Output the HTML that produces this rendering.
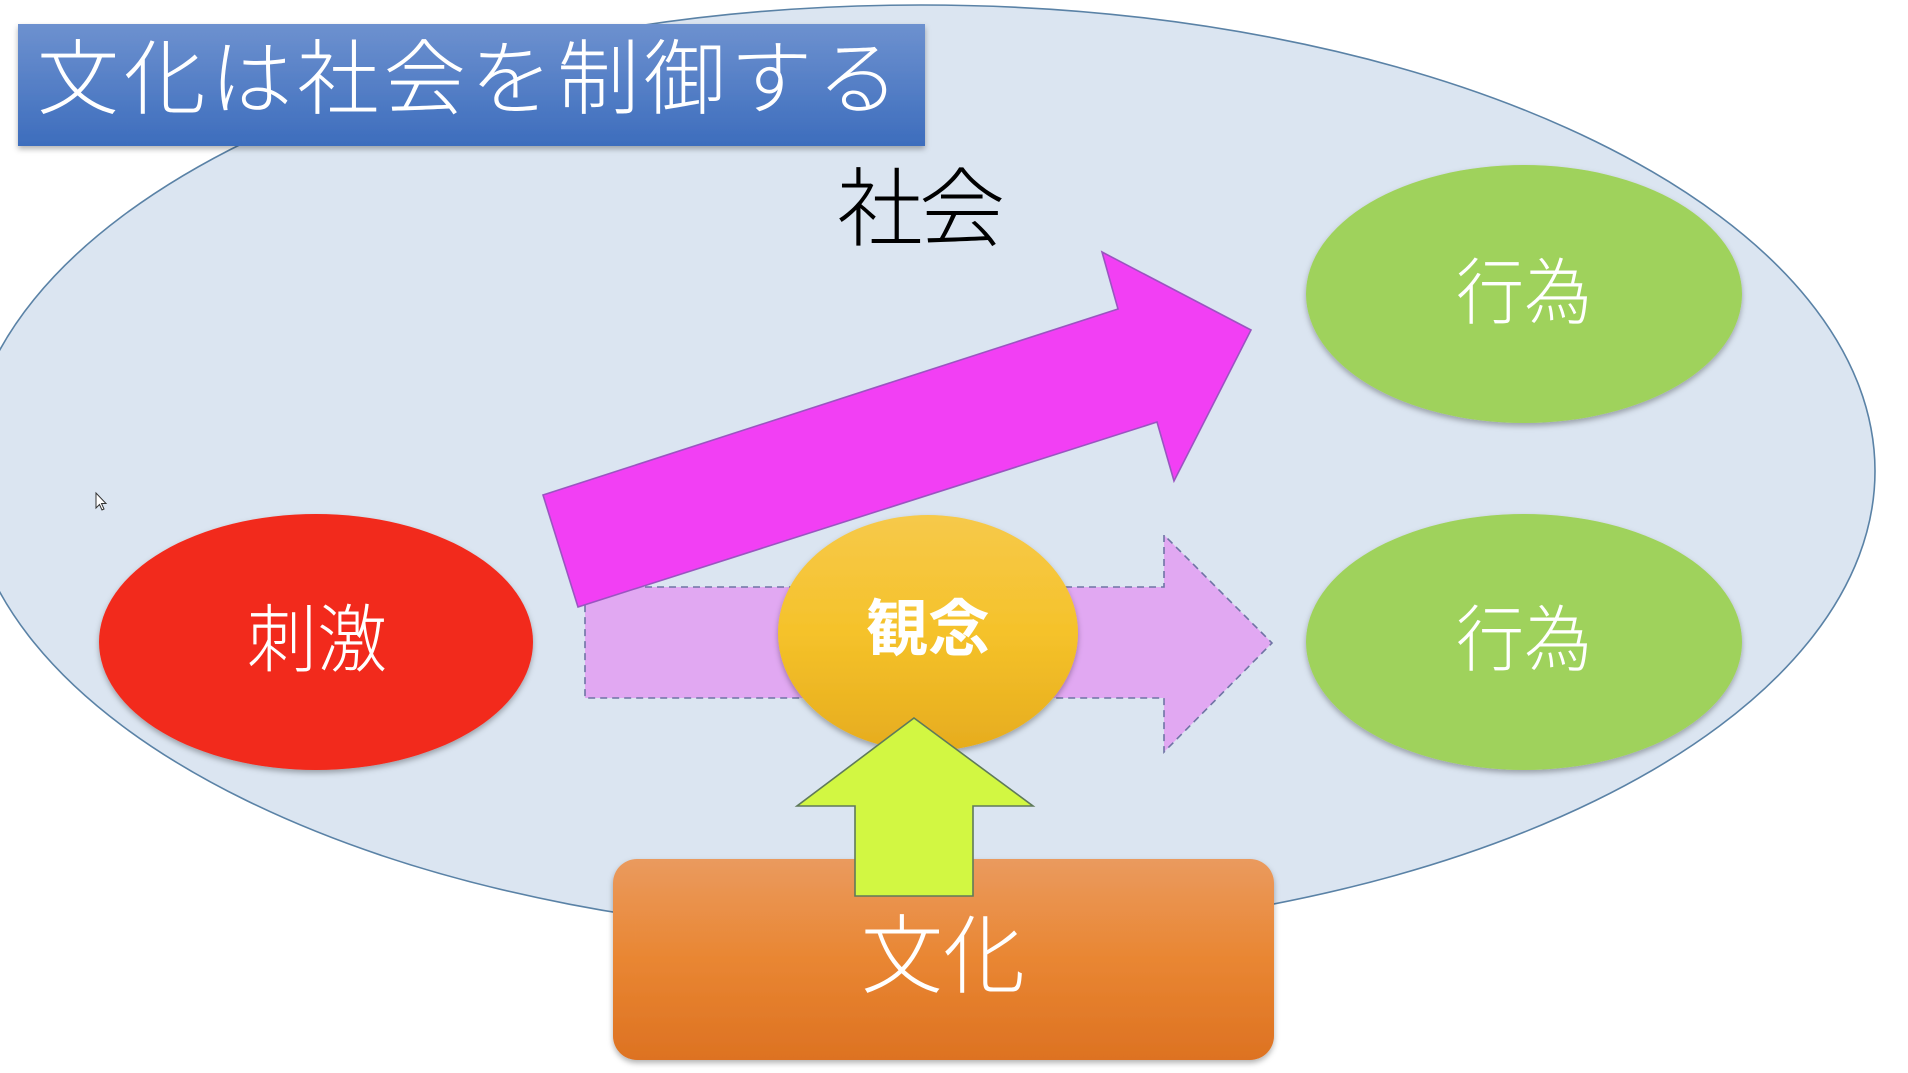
<!DOCTYPE html>
<html>
<head>
<meta charset="utf-8">
<style>
  html,body{margin:0;padding:0;background:#fff;}
  body{width:1908px;height:1073px;overflow:hidden;}
  svg{display:block;}
  text{font-family:"Liberation Sans","Noto Sans CJK JP","Noto Sans CJK SC",sans-serif;}
</style>
</head>
<body>
<svg width="1908" height="1073" viewBox="0 0 1908 1073" xmlns="http://www.w3.org/2000/svg">
  <defs>
    <linearGradient id="gTitle" x1="0" y1="0" x2="0" y2="1">
      <stop offset="0" stop-color="#6d91cf"/>
      <stop offset="1" stop-color="#3d6dbd"/>
    </linearGradient>
    <linearGradient id="gYellow" x1="0" y1="0" x2="0" y2="1">
      <stop offset="0" stop-color="#f6c94a"/>
      <stop offset="0.5" stop-color="#f5c22a"/>
      <stop offset="1" stop-color="#e6ac1e"/>
    </linearGradient>
    <linearGradient id="gOrange" x1="0" y1="0" x2="0" y2="1">
      <stop offset="0" stop-color="#ea9a5e"/>
      <stop offset="0.5" stop-color="#e98632"/>
      <stop offset="1" stop-color="#dd7222"/>
    </linearGradient>
    <filter id="sh" x="-10%" y="-10%" width="120%" height="130%">
      <feDropShadow dx="0" dy="3" stdDeviation="3" flood-color="#000" flood-opacity="0.3"/>
    </filter>
  </defs>

  <!-- big society ellipse -->
  <ellipse cx="921" cy="471" rx="954" ry="466" fill="#dbe5f1" stroke="#5a82a6" stroke-width="1.6"/>

  <!-- title box -->
  <rect x="18" y="24" width="907" height="122" fill="url(#gTitle)" filter="url(#sh)"/>
  <text x="37" y="80" font-size="82" fill="#ffffff" font-weight="300" dominant-baseline="central" textLength="862" lengthAdjust="spacing">文化は社会を制御する</text>

  <!-- 社会 label -->
  <text x="921" y="210" font-size="86" fill="#000000" font-weight="300" text-anchor="middle" dominant-baseline="central" textLength="168" lengthAdjust="spacing">社会</text>

  <!-- dashed light purple arrow -->
  <polygon points="585,587 1164,587 1164,535 1272,643 1164,752 1164,698 585,698" fill="#e1a8f2" stroke="#6f74a4" stroke-width="1.6" stroke-dasharray="7,5"/>

  <!-- magenta arrow -->
  <polygon points="543,495 1118,309 1102,252 1251,330 1174,481 1157,422 578,607" fill="#f23ff4" stroke="#9a55c0" stroke-width="1.6"/>

  <!-- red ellipse 刺激 -->
  <ellipse cx="316" cy="642" rx="217" ry="128" fill="#f2291b" filter="url(#sh)"/>
  <text x="317" y="640" font-size="74" fill="#ffffff" font-weight="300" text-anchor="middle" dominant-baseline="central" textLength="140" lengthAdjust="spacingAndGlyphs">刺激</text>

  <!-- green ellipses 行為 -->
  <ellipse cx="1524" cy="294" rx="218" ry="129" fill="#9fd25b" filter="url(#sh)"/>
  <text x="1524" y="294" font-size="72" fill="#ffffff" font-weight="300" text-anchor="middle" dominant-baseline="central" textLength="136" lengthAdjust="spacingAndGlyphs">行為</text>

  <ellipse cx="1524" cy="642" rx="218" ry="128" fill="#9fd25b" filter="url(#sh)"/>
  <text x="1524" y="641" font-size="72" fill="#ffffff" font-weight="300" text-anchor="middle" dominant-baseline="central" textLength="136" lengthAdjust="spacingAndGlyphs">行為</text>

  <!-- orange box 文化 -->
  <rect x="613" y="859" width="661" height="201" rx="24" ry="24" fill="url(#gOrange)" filter="url(#sh)"/>
  <text x="943" y="957" font-size="86" fill="#ffffff" font-weight="300" text-anchor="middle" dominant-baseline="central" textLength="164" lengthAdjust="spacingAndGlyphs">文化</text>

  <!-- yellow ellipse 観念 -->
  <ellipse cx="928" cy="633" rx="150" ry="118" fill="url(#gYellow)" filter="url(#sh)"/>
  <text x="928" y="630" font-size="62" fill="#ffffff" font-weight="bold" text-anchor="middle" dominant-baseline="central" textLength="124" lengthAdjust="spacingAndGlyphs">観念</text>

  <!-- lime up arrow -->
  <polygon points="914,718 1033,806 973,806 973,896 855,896 855,806 797,806" fill="#d2f742" stroke="#5f7a5a" stroke-width="1.6"/>

  <!-- mouse cursor -->
  <polygon points="96,493 96,508 99.5,504.5 102,510 104,509 101.5,503.5 106,503.5" fill="#ffffff" stroke="#333" stroke-width="1"/>
</svg>
</body>
</html>
